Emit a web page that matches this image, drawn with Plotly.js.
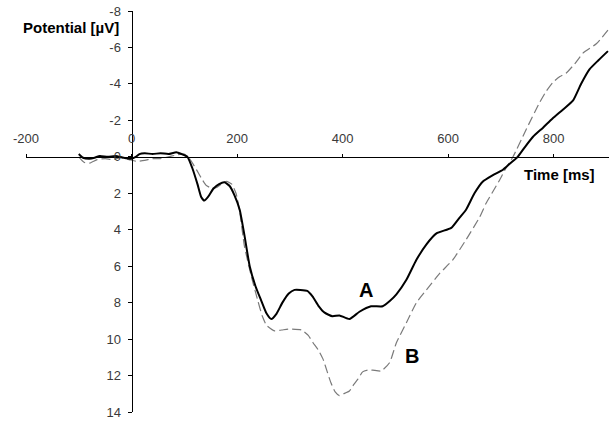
<!DOCTYPE html>
<html>
<head>
<meta charset="utf-8">
<script src="https://cdn.plot.ly/plotly-3.0.1.min.js"></script>
<style>html,body{margin:0;padding:0;background:#fff;}#chart{width:609px;height:421px;}</style>
</head>
<body>
<div id="chart"></div>
<script>
// Curve A (solid)
var timeA = [-100,-92,-80,-70,-60,-45,-30,-15,0,8,15,25,40,55,70,85,95,106,115,125,132,138,145,155,166,176,186,195,205,214,224,235,246,256,265,275,286,298,309,320,333,343,355,366,381,394,413,432,454,476,490,502,521,540,559,578,606,620,634,650,666,685,704,718,732,746,761,780,798,818,837,852,868,885,903];
var potA  = [-0.15,0.05,0.1,0.05,-0.05,0.0,-0.05,0.05,0.1,0.0,-0.15,-0.2,-0.15,-0.2,-0.15,-0.25,-0.15,0.0,0.6,1.5,2.2,2.4,2.2,1.75,1.5,1.4,1.6,2.1,2.9,4.3,6.0,7.1,7.9,8.6,8.9,8.6,8.0,7.5,7.3,7.3,7.35,7.65,8.2,8.55,8.75,8.7,8.9,8.5,8.2,8.2,7.9,7.55,6.75,5.65,4.8,4.2,3.9,3.4,2.9,2.0,1.35,1.0,0.71,0.35,0.0,-0.55,-1.1,-1.6,-2.1,-2.6,-3.1,-4.0,-4.8,-5.3,-5.8];
// Curve B (dashed)
var timeB = [-100,-90,-80,-65,-50,-35,-20,-5,10,25,40,53,70,85,100,110,123,132,141,150,160,170,180,190,198,205,214,227,239,248,256,271,285,300,322,335,344,354,363,371,378,386,394,402,413,421,429,438,448,457,473,489,502,521,540,559,584,609,634,660,672,685,698,710,723,748,773,786,799,812,824,840,856,881,903];
var potB  = [0.0,0.3,0.35,0.15,0.1,0.15,0.05,0.15,0.25,0.2,0.1,0.1,0.0,-0.1,-0.15,0.1,0.7,1.15,1.55,1.7,1.7,1.5,1.35,1.5,2.0,3.0,4.9,6.55,7.85,8.75,9.25,9.55,9.5,9.45,9.5,9.8,10.2,10.6,11.1,11.8,12.4,12.9,13.1,13.0,12.85,12.5,12.2,11.8,11.7,11.7,11.75,11.3,10.2,9.1,8.0,7.3,6.4,5.65,4.55,3.3,2.55,1.9,1.26,0.6,0.0,-1.5,-2.95,-3.6,-4.1,-4.4,-4.6,-5.1,-5.7,-6.2,-6.95];

var xTicks = [-200,0,200,400,600,800];
var yTicks = [-8,-6,-4,-2,0,2,4,6,8,10,12,14];
var xRange = [-200, 905];
var yRange = [14, -8];

var xCross = 0, yCross = 0;
var xPos = (yRange[0] - yCross) / (yRange[0] - yRange[1]);
var yPos = (xCross - xRange[0]) / (xRange[1] - xRange[0]);

var traces = [
  {x: timeB, y: potB, mode: 'lines', name: 'B', line: {color: '#7a7a7a', width: 1.2, dash: '9px,4px', shape: 'spline', smoothing: 0.5}, hoverinfo: 'skip'},
  {x: timeA, y: potA, mode: 'lines', name: 'A', line: {color: '#000000', width: 2, shape: 'spline', smoothing: 0.5}, hoverinfo: 'skip'}
];

var tickFont = {family: 'Liberation Sans, Arial, sans-serif', size: 13, color: '#3a3a3a'};
var boldFont = {family: 'Liberation Sans, Arial, sans-serif', size: 15, color: '#000'};

var layout = {
  width: 609, height: 421,
  margin: {l: 26, r: 0, t: 11, b: 9},
  paper_bgcolor: '#fff', plot_bgcolor: '#fff',
  showlegend: false,
  xaxis: {
    range: xRange, anchor: 'free', position: xPos, side: 'top',
    tickvals: xTicks, ticktext: xTicks.map(String),
    ticks: 'outside', ticklen: 3, tickcolor: '#000', tickwidth: 1,
    showline: true, linecolor: '#000', linewidth: 1,
    showgrid: false, zeroline: false, tickfont: tickFont, ticklabelstandoff: 6
  },
  yaxis: {
    range: yRange, anchor: 'free', position: yPos,
    tickvals: yTicks, ticktext: yTicks.map(String),
    ticks: 'outside', ticklen: 4, tickcolor: '#000', tickwidth: 1,
    showline: true, linecolor: '#000', linewidth: 1,
    showgrid: false, zeroline: false, tickfont: tickFont, ticklabelstandoff: 4
  },
  annotations: [
    {text: '<b>Potential [µV]</b>', xref: 'x', yref: 'y', x: -20, y: -7.07, xanchor: 'right', yanchor: 'middle', showarrow: false, font: boldFont},
    {text: '<b>Time [ms]</b>', xref: 'x', yref: 'y', x: 883, y: 0.99, xanchor: 'right', yanchor: 'middle', showarrow: false, font: boldFont},
    {text: '<b>A</b>', xref: 'x', yref: 'y', x: 445, y: 7.3, xanchor: 'center', yanchor: 'middle', showarrow: false, font: {family: 'Liberation Sans, Arial, sans-serif', size: 20, color: '#000'}},
    {text: '<b>B</b>', xref: 'x', yref: 'y', x: 531, y: 10.9, xanchor: 'center', yanchor: 'middle', showarrow: false, font: {family: 'Liberation Sans, Arial, sans-serif', size: 20, color: '#000'}}
  ]
};

Plotly.newPlot('chart', traces, layout, {displayModeBar: false, staticPlot: true});
</script>
</body>
</html>
